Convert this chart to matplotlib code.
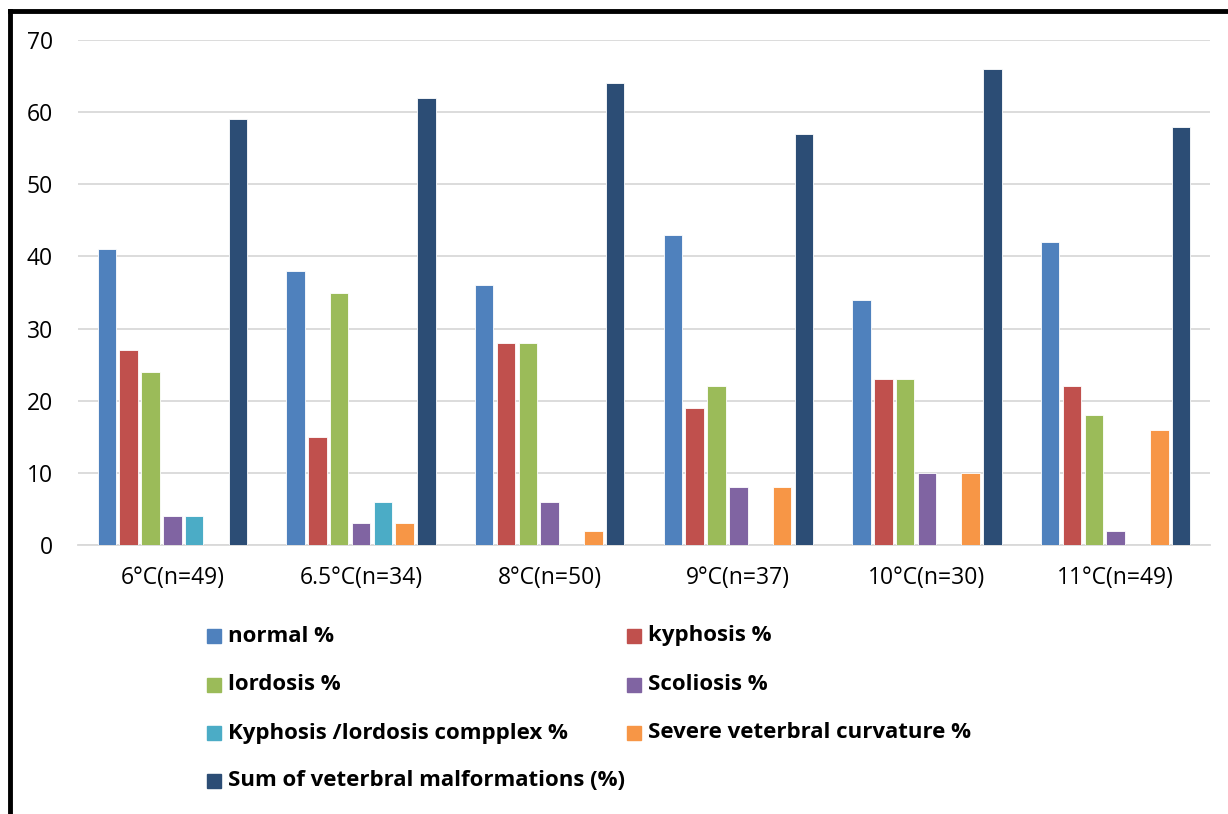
import matplotlib
matplotlib.use("Agg")
import matplotlib.pyplot as plt
from matplotlib.patches import Rectangle
from matplotlib.lines import Line2D
import numpy as np

categories = ["6°C(n=49)", "6.5°C(n=34)", "8°C(n=50)", "9°C(n=37)", "10°C(n=30)", "11°C(n=49)"]
series_names = [
    "normal %",
    "kyphosis %",
    "lordosis %",
    "Scoliosis %",
    "Kyphosis /lordosis compplex %",
    "Severe veterbral curvature %",
    "Sum of veterbral malformations (%)",
]
normal = [41, 38, 36, 43, 34, 42]
kyphosis = [27, 15, 28, 19, 23, 22]
lordosis = [24, 35, 28, 22, 23, 18]
scoliosis = [4, 3, 6, 8, 10, 2]
kyph_lord_complex = [4, 6, 0, 0, 0, 0]
severe_curvature = [0, 3, 2, 8, 10, 16]
sum_malformations = [59, 62, 64, 57, 66, 58]
series_values = [normal, kyphosis, lordosis, scoliosis, kyph_lord_complex,
                 severe_curvature, sum_malformations]
colors = ["#4F81BD", "#C0504D", "#9BBB59", "#8064A2", "#4BACC6", "#F79646", "#2C4D75"]
yticks = [0, 10, 20, 30, 40, 50, 60, 70]

W, H = 1228, 814
fig = plt.figure(figsize=(W / 100, H / 100), dpi=100)
ax = fig.add_axes([78 / W, 1 - 545 / H, (1210 - 78) / W, (545 - 40) / H])

x = np.arange(len(categories))
n = len(series_values)
slot = 0.81 / n
bw = slot * 0.85
for i, (vals, c) in enumerate(zip(series_values, colors)):
    offs = (i - (n - 1) / 2) * slot
    ax.bar(x + offs, vals, width=bw, color=c, edgecolor="white", linewidth=0.6, zorder=3)

ax.set_xlim(-0.5, len(categories) - 0.5)
ax.set_ylim(0, 70)
ax.set_yticks(yticks)
ax.set_xticks(x)
ax.set_xticklabels(categories)
ax.grid(axis="y", color="#D9D9D9", linewidth=1.3, zorder=0)
for s in ["left", "right", "top"]:
    ax.spines[s].set_visible(False)
ax.spines["bottom"].set_color("#D9D9D9")
ax.spines["bottom"].set_linewidth(1.3)
ax.tick_params(axis="both", length=0, labelsize=16.5, colors="black")
ax.tick_params(axis="x", pad=15)
ax.tick_params(axis="y", pad=18)
for lab in ax.get_xticklabels() + ax.get_yticklabels():
    lab.set_fontfamily("Open Sans")

# legend laid out in two columns, row by row
col_x = [207, 627]
row_y = [636, 685, 733, 781]
for k, (name, c) in enumerate(zip(series_names, colors)):
    r, col = divmod(k, 2)
    px, py = col_x[col], row_y[r]
    fig.patches.append(Rectangle((px / W, 1 - (py + 7) / H), 14 / W, 14 / H,
                                 transform=fig.transFigure, color=c))
    fig.text((px + 21) / W, 1 - py / H, name, fontsize=16, fontweight="bold",
             family="Open Sans", va="center", ha="left")

# outer frame (left and top edges)
fig.add_artist(Line2D([10 / W, 10 / W], [0, 1 - 11 / H], transform=fig.transFigure,
                      color="black", linewidth=3.5, solid_capstyle="projecting"))
fig.add_artist(Line2D([10 / W, 1], [1 - 11 / H, 1 - 11 / H], transform=fig.transFigure,
                      color="black", linewidth=3.5, solid_capstyle="projecting"))

fig.savefig("out.png", dpi=100)
